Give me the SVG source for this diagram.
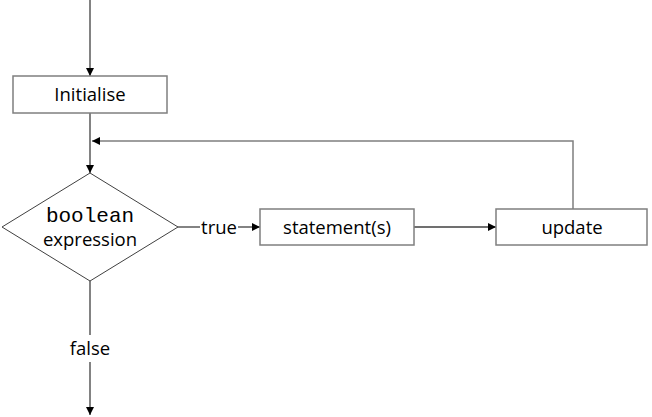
<svg xmlns="http://www.w3.org/2000/svg" width="652" height="417" viewBox="0 0 652 417">
<style>
.box{fill:#fff;stroke:#7f7f7f;stroke-width:1.5}
.dia{fill:#fff;stroke:#404040;stroke-width:1}
.ln{fill:none;stroke:#404040;stroke-width:1.3}
.lp{fill:none;stroke:#7f7f7f;stroke-width:1.5}
.t{font-family:"Open Sans","Liberation Sans",sans-serif;font-size:18.5px;fill:#000;text-anchor:middle}
.m{font-family:"Liberation Mono",monospace;font-size:21px;fill:#000;text-anchor:middle}
</style>
<defs>
<marker id="ah" markerWidth="8" markerHeight="8" refX="8" refY="4" orient="auto" markerUnits="userSpaceOnUse">
<path d="M0,0 L8,4 L0,8 Z" fill="#000"/>
</marker>
</defs>
<g id="connectors">
<line class="ln" x1="90" y1="0" x2="90" y2="76" marker-end="url(#ah)"/>
<line class="ln" x1="90" y1="113" x2="90" y2="173" marker-end="url(#ah)"/>
<polyline class="lp" points="573,209 573,141 92,141" marker-end="url(#ah)"/>
<line class="ln" x1="178" y1="227" x2="200" y2="227"/>
<line class="ln" x1="238" y1="227" x2="260" y2="227" marker-end="url(#ah)"/>
<line class="ln" x1="414" y1="227" x2="496" y2="227" marker-end="url(#ah)"/>
<line class="ln" x1="90" y1="281" x2="90" y2="335"/>
<line class="ln" x1="90" y1="362" x2="90" y2="415" marker-end="url(#ah)"/>
<text class="t" x="219" y="234">true</text>
<text class="t" x="90" y="355">false</text>
</g>
<g id="initialise">
<rect class="box" x="13" y="76" width="154" height="37"/>
<text class="t" x="90" y="101">Initialise</text>
</g>
<g id="condition">
<polygon class="dia" points="90,173 178,227 90,281 2,227"/>
<text class="m" x="90" y="222">boolean</text>
<text class="t" x="90" y="246">expression</text>
</g>
<g id="statements">
<rect class="box" x="260" y="209" width="154" height="36"/>
<text class="t" x="337" y="234">statement(s)</text>
</g>
<g id="update">
<rect class="box" x="496" y="209" width="151" height="36"/>
<text class="t" x="572" y="234">update</text>
</g>
</svg>
